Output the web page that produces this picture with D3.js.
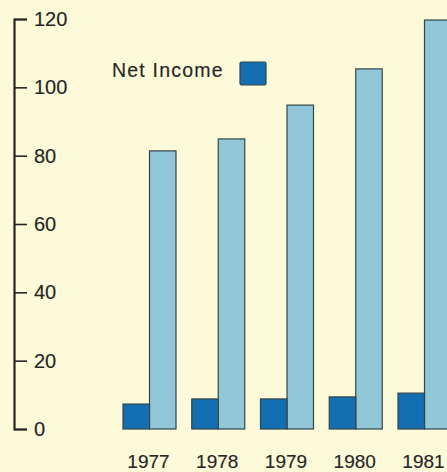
<!DOCTYPE html>
<html>
<head>
<meta charset="utf-8">
<script src="https://cdn.jsdelivr.net/npm/d3@7/dist/d3.min.js"></script>
<style>
  html, body { margin: 0; padding: 0; background: #fcfad8; }
  svg { display: block; }
  text { font-family: "Liberation Sans", Arial, Helvetica, sans-serif; fill: #262626; stroke: #262626; stroke-width: 0.15px; }
</style>
</head>
<body>
<svg id="chart" width="447" height="472"></svg>
<script>
// Annual figures, 1977–1981
const years = ["1977", "1978", "1979", "1980", "1981"];
const netIncome = [7.3, 8.8, 8.8, 9.4, 10.5];
const secondSeries = [81.4, 84.9, 94.8, 105.4, 119.7];
const yTicks = [0, 20, 40, 60, 80, 100, 120];
const legendLabel = "Net Income";

const colors = { net: "#136fb1", second: "#91c7d6", edge: "#33454d", ink: "#262626" };

const svg = d3.select("#chart");

const y = d3.scaleLinear().domain([0, 120]).range([429, 19]);

const x = d3.scaleBand()
  .domain(years)
  .range([123, 451])
  .paddingInner(0.229)
  .paddingOuter(0);

const sub = d3.scaleBand()
  .domain(["net", "second"])
  .range([0, x.bandwidth()])
  .padding(0);

// Vertical axis with bracket-shaped ends
const yAxis = d3.axisRight(y)
  .tickValues(yTicks)
  .tickSize(13)
  .tickSizeOuter(13)
  .tickPadding(7);

const axisG = svg.append("g")
  .attr("transform", "translate(14,0)")
  .call(yAxis);
axisG.select(".domain").attr("stroke", colors.ink).attr("stroke-width", 2.2).attr("fill", "none");
axisG.selectAll(".tick line").attr("stroke", colors.ink).attr("stroke-width", 1.6);
axisG.selectAll(".tick text")
  .attr("font-size", 20)
  .attr("fill", colors.ink)
  .style("font-family", "'Liberation Sans', Arial, sans-serif");
axisG.attr("font-family", null).attr("font-size", null);

// Bars
const rows = years.map((yr, i) => ({ year: yr, net: netIncome[i], second: secondSeries[i] }));

const groups = svg.append("g").selectAll("g")
  .data(rows)
  .join("g")
  .attr("transform", d => `translate(${x(d.year)},0)`);

groups.append("rect")
  .attr("x", sub("second"))
  .attr("y", d => y(d.second))
  .attr("width", sub.bandwidth())
  .attr("height", d => y(0) - y(d.second))
  .attr("fill", colors.second)
  .attr("stroke", colors.edge)
  .attr("stroke-width", 1.2);

groups.append("rect")
  .attr("x", sub("net"))
  .attr("y", d => y(d.net))
  .attr("width", sub.bandwidth())
  .attr("height", d => y(0) - y(d.net))
  .attr("fill", colors.net)
  .attr("stroke", colors.edge)
  .attr("stroke-width", 1.2);

// Year labels
svg.append("g").selectAll("text")
  .data(years)
  .join("text")
  .attr("x", d => x(d) + x.bandwidth() / 2 - 1)
  .attr("y", 468)
  .attr("text-anchor", "middle")
  .attr("font-size", 19)
  .text(d => d);

// Legend
svg.append("text")
  .attr("x", 112)
  .attr("y", 77)
  .attr("font-size", 19.5)
  .attr("letter-spacing", 1.2)
  .text(legendLabel);

svg.append("rect")
  .attr("x", 240)
  .attr("y", 62)
  .attr("width", 26)
  .attr("height", 23)
  .attr("rx", 1.5)
  .attr("fill", colors.net)
  .attr("stroke", colors.edge)
  .attr("stroke-width", 1.2);
</script>
</body>
</html>
